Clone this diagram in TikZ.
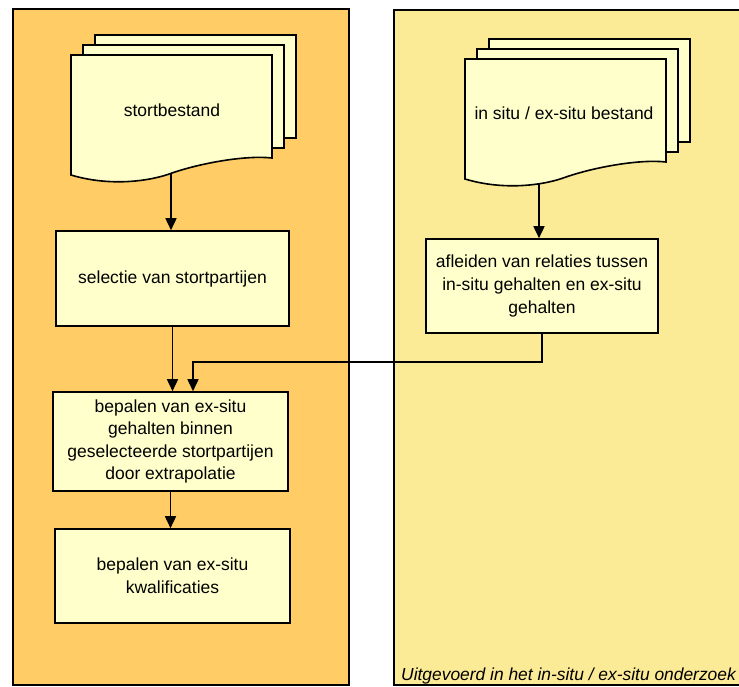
\documentclass[tikz,border=0pt]{standalone}
\usepackage{fontspec}
\setmainfont{Liberation Sans}
\usepackage{tikz}
\usetikzlibrary{
  arrows.meta,
  positioning
}
\definecolor{stortbg}{HTML}{FFCC66}
\definecolor{insitubg}{HTML}{FBEA96}
\definecolor{boxfill}{HTML}{FFFFCC}
\newcommand{\docsheets}[2]{%
  \begin{scope}[shift={(#1,#2)}]
    \foreach \dx/\dy in {24/-20, 12/-10}
      \draw[sheet] (\dx,\dy) rectangle ++(201,103);
    \draw[sheet] (0,0) -- (201,0) -- (201,103)
      .. controls (175,100) and (130,108) .. (101,118)
      .. controls (80,126) and (40,132) .. (0,120) -- cycle;
  \end{scope}}

\begin{document}
\begin{tikzpicture}[x=1pt, y=-1pt,
  panel/.style={draw, line width=1.6pt},
  sheet/.style={draw, line width=1.6pt, fill=boxfill},
  txt/.style={font=\fontsize{17.5}{22.6}\selectfont, align=center},
  procbox/.style={txt, draw, line width=1.6pt, fill=boxfill,
                  minimum width=233pt, minimum height=95pt},
  arr/.style={-{Triangle[length=12pt, width=11pt]}, line width=1.6pt},
]
  \useasboundingbox (0,0) rectangle (739,686);
  \clip (0,0) rectangle (739,686);

  % Panels
  \draw[panel, fill=stortbg] (13,9) rectangle (349,685);
  \draw[panel, fill=insitubg] (394,10) rectangle (760,685);
  \node[txt, font=\fontsize{17.4}{22.6}\selectfont\itshape, anchor=base west, inner sep=1pt]
    (uitgevoerd) at (400,680) {Uitgevoerd in het in-situ / ex-situ onderzoek};

  % Document stacks
  \docsheets{71}{55}
  \node[txt] (stort) at (172,110) {stortbestand};
  \coordinate (stort-out) at (171,173);

  \docsheets{465}{59}
  \node[txt] (insitu) at (564,113) {in situ / ex-situ bestand};
  \coordinate (insitu-out) at (539,184);

  % Process boxes
  \node[procbox] (sel) at (172.5,278.5) {selectie van stortpartijen};
  \node[procbox, minimum width=235pt, minimum height=99pt] (extra) at (170.5,441.5)
    {bepalen van ex-situ\\gehalten binnen\\geselecteerde stortpartijen\\door extrapolatie};
  \node[procbox, minimum width=235pt, minimum height=94pt] (kwal) at (172.5,576)
    {bepalen van ex-situ\\kwalificaties};
  \node[procbox, minimum width=232pt, minimum height=94pt] (relat) at (542,286)
    {afleiden van relaties tussen\\in-situ gehalten en ex-situ\\gehalten};

  % Arrows
  \coordinate (join) at (193,362);
  \draw[arr] (stort-out) -- (stort-out |- sel.north);
  \draw[arr] (insitu-out) -- (insitu-out |- relat.north);
  \draw[arr] (sel.south) -- (sel.south |- extra.north);
  \draw[arr] (relat.south) |- (join) -- (join |- extra.north);
  \draw[arr] (extra.south) -- (extra.south |- kwal.north);

\end{tikzpicture}
\end{document}
